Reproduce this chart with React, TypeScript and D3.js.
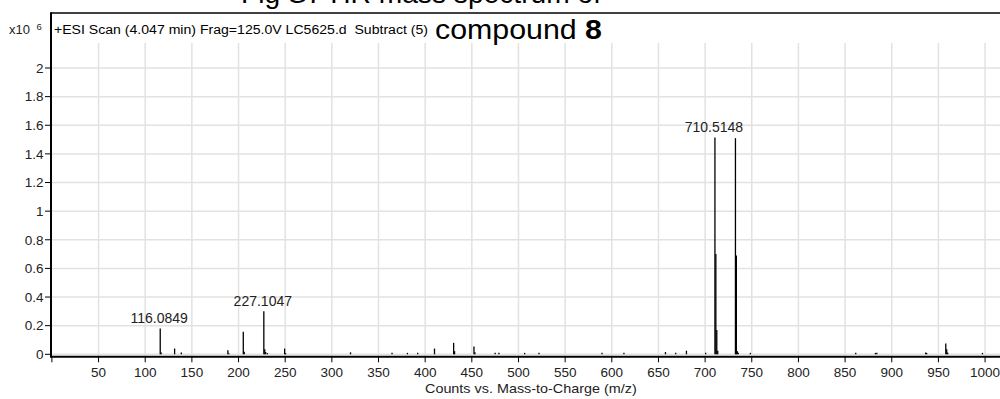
import React from "react";
import * as d3 from "d3";

// ---- data (m/z, counts x10^6) ----
const peakMz = [
  116.0849, 117.1, 131.5, 138.7, 188.6, 189.6, 205.1, 206.1, 227.1047, 228.1, 229.1, 231.0,
  249.4, 250.4, 320.0, 364.5, 381.0, 392.0, 410.0, 430.5, 431.5, 452.3, 453.3, 475.0, 479.0,
  506.6, 522.0, 589.5, 613.0, 657.5, 668.5, 680.0, 700.6, 710.5148, 711.5, 712.5, 713.5,
  732.5, 733.5, 734.5, 735.5, 748.5, 861.4, 882.5, 884.0, 936.4, 937.4, 957.9, 958.9, 959.9, 997.2,
];
const peakCounts = [
  0.18, 0.012, 0.04, 0.013, 0.028, 0.008, 0.157, 0.018, 0.30, 0.035, 0.016, 0.008,
  0.04, 0.008, 0.014, 0.01, 0.01, 0.01, 0.04, 0.08, 0.022, 0.055, 0.014, 0.01, 0.01,
  0.01, 0.01, 0.01, 0.01, 0.016, 0.01, 0.025, 0.01, 1.515, 0.70, 0.17, 0.025,
  1.51, 0.69, 0.022, 0.01, 0.01, 0.01, 0.01, 0.01, 0.013, 0.009, 0.075, 0.035, 0.012, 0.01,
];
const labelledMz = [116.0849, 227.1047, 710.5148];
const xTickValues = [50, 100, 150, 200, 250, 300, 350, 400, 450, 500, 550, 600, 650, 700, 750, 800, 850, 900, 950, 1000];
const yTickValues = [0, 0.2, 0.4, 0.6, 0.8, 1, 1.2, 1.4, 1.6, 1.8, 2];
const titleLine1 = "Fig S7 HR mass spectrum of";
const titleLine2 = "compound ";
const titleBold = "8";
const headerText = "+ESI Scan (4.047 min) Frag=125.0V LC5625.d\u00a0 Subtract (5)";
const xAxisTitle = "Counts vs. Mass-to-Charge (m/z)";

const W = 1000;
const H = 399;
const font = "'Liberation Sans', Arial, sans-serif";

export default function App() {
  const x = d3.scaleLinear().domain([0, 1016]).range([51.9, 1000]);
  const y = d3.scaleLinear().domain([0, 2]).range([354.3, 68]);
  const plotLeft = 51;
  const plotTop = 13;
  const gridTop = 43;
  const axisY = 356.7;
  const peaks = peakMz.map((m, i) => ({ mz: m, v: peakCounts[i] }));
  const fmt = (v: number) => (Number.isInteger(v) ? String(v) : String(+v.toFixed(1)));

  return (
    <svg
      width={W}
      height={H}
      viewBox={`0 0 ${W} ${H}`}
      style={{ position: "absolute", left: 0, top: 0, background: "#fff", overflow: "hidden" }}
      fontFamily={font}
    >
      <rect x={0} y={0} width={W} height={H} fill="#fff" />
      {/* title */}
      <text x={601} y={2.5} textAnchor="end" fontSize={28} fill="#000" textLength={360} lengthAdjust="spacingAndGlyphs">
        {titleLine1}
      </text>
      {/* gridlines */}
      {xTickValues.map((t) => (
        <line key={"gx" + t} x1={x(t)} x2={x(t)} y1={gridTop} y2={axisY - 1} stroke="#e2e2e2" strokeWidth={1.5} />
      ))}
      {yTickValues.map((t) => (
        <line key={"gy" + t} x1={plotLeft + 1} x2={W} y1={y(t)} y2={y(t)} stroke="#e2e2e2" strokeWidth={1.5} />
      ))}
      {/* frame */}
      <line x1={plotLeft} x2={W} y1={plotTop} y2={plotTop} stroke="#000" strokeWidth={1.5} />
      <line x1={plotLeft} x2={plotLeft} y1={plotTop - 0.7} y2={axisY + 1} stroke="#000" strokeWidth={2} />
      <line x1={plotLeft} x2={W} y1={axisY} y2={axisY} stroke="#000" strokeWidth={2} />
      {/* header inside plot */}
      <text x={9} y={34} fontSize={13} fill="#222">x10</text>
      <text x={36.5} y={29.5} fontSize={9.5} fill="#222">6</text>
      <text x={54} y={33.5} fontSize={12} fill="#000" textLength={374} lengthAdjust="spacingAndGlyphs">
        {headerText}
      </text>
      <text x={602} y={38.5} textAnchor="end" fontSize={28.5} fill="#000" textLength={167} lengthAdjust="spacingAndGlyphs">
        {titleLine2}
        <tspan fontWeight="bold">{titleBold}</tspan>
      </text>
      {/* y ticks */}
      {yTickValues.map((t) => (
        <g key={"yt" + t}>
          <line x1={45} x2={plotLeft} y1={y(t)} y2={y(t)} stroke="#000" strokeWidth={1} />
          <text x={43.5} y={y(t) + 4.8} textAnchor="end" fontSize={13.5} fill="#222">
            {fmt(t)}
          </text>
        </g>
      ))}
      {/* x ticks */}
      {[0, ...xTickValues].map((t) => (
        <line key={"xt" + t} x1={x(t)} x2={x(t)} y1={axisY} y2={362.3} stroke="#000" strokeWidth={1} />
      ))}
      {xTickValues.map((t) => (
        <text key={"xl" + t} x={x(t)} y={376.7} textAnchor="middle" fontSize={13.5} fill="#222">
          {t}
        </text>
      ))}
      <text x={425} y={392.5} fontSize={13.5} fill="#222" textLength={211.7} lengthAdjust="spacingAndGlyphs">
        {xAxisTitle}
      </text>
      {/* peaks */}
      {peaks.map((p, i) => (
        <line key={"p" + i} x1={x(p.mz)} x2={x(p.mz)} y1={y(0)} y2={y(p.v)} stroke="#000" strokeWidth={1.3} />
      ))}
      {peaks
        .filter((p) => labelledMz.includes(p.mz))
        .map((p) => (
          <text key={"lab" + p.mz} x={x(p.mz) - 1} y={y(p.v) - 5.5} textAnchor="middle" fontSize={14} fill="#222">
            {p.mz.toFixed(4)}
          </text>
        ))}
    </svg>
  );
}
